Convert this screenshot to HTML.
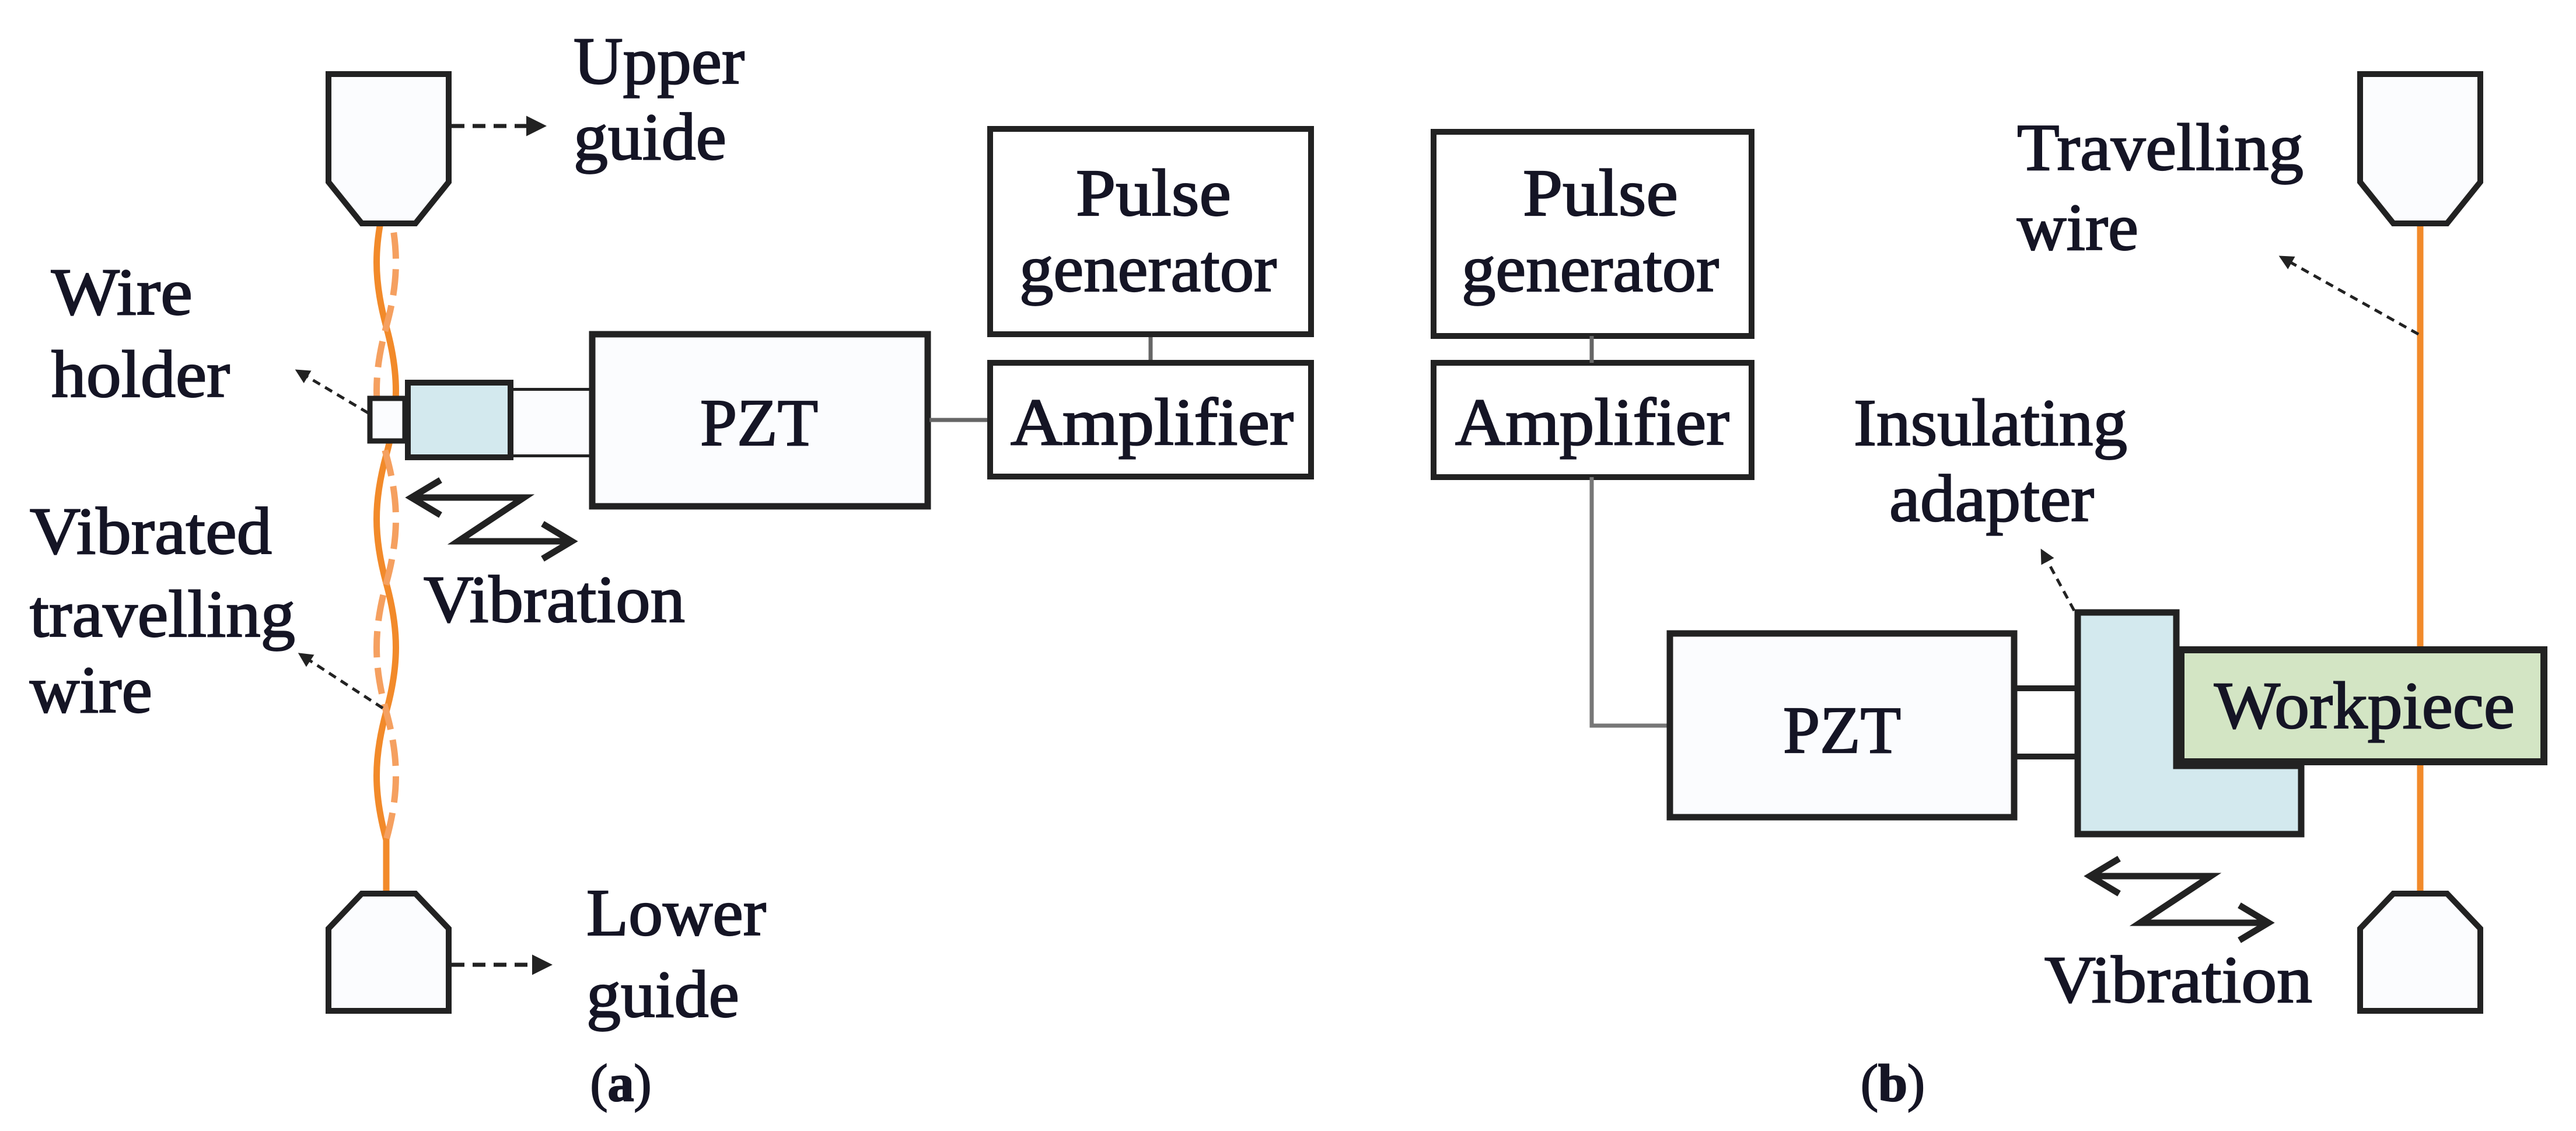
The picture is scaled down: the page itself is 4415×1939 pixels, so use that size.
<!DOCTYPE html>
<html><head><meta charset="utf-8"><style>
html,body{margin:0;padding:0;background:#fff;}
svg{display:block;}
text{font-family:"Liberation Serif",serif;fill:#151525;stroke:#151525;stroke-width:2.2px;}
</style></head><body>
<svg width="4415" height="1939" viewBox="0 0 4415 1939" xmlns="http://www.w3.org/2000/svg">
<defs>
<marker id="ah" viewBox="0 0 10 10" refX="8" refY="5" markerWidth="5" markerHeight="5" orient="auto"><path d="M0,0 L10,5 L0,10 z" fill="#222"/></marker>
</defs>
<g font-size="114">
<!-- ===== (a) ===== -->
<path d="M662,337 C640,420 640,480 662,560 S684,700 662,780 S640,920 662,1000 S684,1140 662,1220 S640,1360 662,1440 L662,1528" fill="none" stroke="#f28a2a" stroke-width="11"/>
<path d="M662,337 C684,420 684,480 662,560 S640,700 662,780 S684,920 662,1000 S640,1140 662,1220 S684,1360 662,1440" fill="none" stroke="#f5a060" stroke-width="11" stroke-dasharray="45,18"/>
<polygon points="563,127 769,127 769,312 712,383 620,383 563,312" fill="#fbfcfe" stroke="#222" stroke-width="10" stroke-linejoin="miter"/>
<line x1="774" y1="216" x2="930" y2="216" stroke="#222" stroke-width="7" stroke-dasharray="22,14" marker-end="url(#ah)"/>
<text x="983" y="143" textLength="293" lengthAdjust="spacingAndGlyphs">Upper</text>
<text x="983" y="273" textLength="262" lengthAdjust="spacingAndGlyphs">guide</text>
<polygon points="620,1532 712,1532 769,1592 769,1733 563,1733 563,1592" fill="#fbfcfe" stroke="#222" stroke-width="10"/>
<line x1="774" y1="1654" x2="940" y2="1654" stroke="#222" stroke-width="7" stroke-dasharray="22,14" marker-end="url(#ah)"/>
<text x="1005" y="1603" textLength="308" lengthAdjust="spacingAndGlyphs">Lower</text>
<text x="1005" y="1743" textLength="262" lengthAdjust="spacingAndGlyphs">guide</text>
<line x1="876" y1="670" x2="1012" y2="670" stroke="#222" stroke-width="10"/>
<line x1="876" y1="779" x2="1012" y2="779" stroke="#222" stroke-width="10"/>
<rect x="876" y="670" width="136" height="109" fill="#fbfcfe"/>
<rect x="634" y="683" width="60" height="73" fill="#fbfcfe" stroke="#222" stroke-width="9"/>
<rect x="699" y="656" width="176" height="128" fill="#d3e9ee" stroke="#222" stroke-width="10"/>
<rect x="1015" y="573" width="575" height="295" fill="#fbfcfe" stroke="#222" stroke-width="11"/>
<text x="1301" y="763" text-anchor="middle" textLength="202" lengthAdjust="spacingAndGlyphs">PZT</text>
<line x1="1593" y1="720" x2="1697" y2="720" stroke="#666" stroke-width="7"/>
<line x1="1972" y1="577" x2="1972" y2="618" stroke="#666" stroke-width="7"/>
<rect x="1697" y="221" width="550" height="352" fill="#fff" stroke="#222" stroke-width="10"/>
<rect x="1697" y="622" width="550" height="195" fill="#fff" stroke="#222" stroke-width="10"/>
<text x="1844" y="369" textLength="266" lengthAdjust="spacingAndGlyphs">Pulse</text>
<text x="1747" y="499" textLength="441" lengthAdjust="spacingAndGlyphs">generator</text>
<text x="1732" y="762" textLength="485" lengthAdjust="spacingAndGlyphs">Amplifier</text>
<line x1="631" y1="708" x2="510" y2="636" stroke="#222" stroke-width="5" stroke-dasharray="14,10" marker-end="url(#ah)"/>
<text x="88" y="539" textLength="242" lengthAdjust="spacingAndGlyphs">Wire</text>
<text x="88" y="680" textLength="306" lengthAdjust="spacingAndGlyphs">holder</text>
<path d="M705,853 L898,853 L785,928 L980,928" fill="none" stroke="#222" stroke-width="11"/>
<path d="M755,823 L705,853 L755,883" fill="none" stroke="#222" stroke-width="11"/>
<path d="M930,898 L980,928 L930,958" fill="none" stroke="#222" stroke-width="11"/>
<text x="726" y="1066" textLength="448" lengthAdjust="spacingAndGlyphs">Vibration</text>
<line x1="656" y1="1214" x2="515" y2="1122" stroke="#222" stroke-width="5" stroke-dasharray="14,10" marker-end="url(#ah)"/>
<text x="51" y="949" textLength="415" lengthAdjust="spacingAndGlyphs">Vibrated</text>
<text x="51" y="1091" textLength="455" lengthAdjust="spacingAndGlyphs">travelling</text>
<text x="51" y="1221" textLength="210" lengthAdjust="spacingAndGlyphs">wire</text>
<text x="1064" y="1887" font-size="90" text-anchor="middle">(<tspan font-weight="bold">a</tspan>)</text>

<!-- ===== (b) ===== -->
<line x1="4148" y1="323" x2="4148" y2="1532" stroke="#f28a2a" stroke-width="11"/>
<polygon points="4045,127 4251,127 4251,312 4194,383 4102,383 4045,312" fill="#fbfcfe" stroke="#222" stroke-width="10"/>
<polygon points="4102,1532 4194,1532 4251,1592 4251,1733 4045,1733 4045,1592" fill="#fbfcfe" stroke="#222" stroke-width="10"/>
<rect x="2457" y="226" width="545" height="350" fill="#fff" stroke="#222" stroke-width="10"/>
<rect x="2457" y="622" width="545" height="196" fill="#fff" stroke="#222" stroke-width="10"/>
<line x1="2728" y1="576" x2="2728" y2="622" stroke="#666" stroke-width="7"/>
<polyline points="2728,818 2728,1244 2862,1244" fill="none" stroke="#777" stroke-width="7"/>
<text x="2610" y="369" textLength="266" lengthAdjust="spacingAndGlyphs">Pulse</text>
<text x="2505" y="499" textLength="441" lengthAdjust="spacingAndGlyphs">generator</text>
<text x="2494" y="762" textLength="470" lengthAdjust="spacingAndGlyphs">Amplifier</text>
<line x1="3455" y1="1180" x2="3561" y2="1180" stroke="#222" stroke-width="10"/>
<line x1="3455" y1="1297" x2="3561" y2="1297" stroke="#222" stroke-width="10"/>
<rect x="2862" y="1086" width="590" height="315" fill="#fbfcfe" stroke="#222" stroke-width="11"/>
<text x="3157" y="1290" text-anchor="middle" textLength="202" lengthAdjust="spacingAndGlyphs">PZT</text>
<polygon points="3561,1050 3730,1050 3730,1313 3944,1313 3944,1430 3561,1430" fill="#d3e9ee" stroke="#222" stroke-width="11"/>
<rect x="3738" y="1114" width="622" height="192" fill="#d3e5c4" stroke="#222" stroke-width="12"/>
<text x="3795" y="1248" textLength="515" lengthAdjust="spacingAndGlyphs">Workpiece</text>
<line x1="4145" y1="573" x2="3910" y2="441" stroke="#222" stroke-width="5" stroke-dasharray="14,10" marker-end="url(#ah)"/>
<text x="3457" y="291" textLength="491" lengthAdjust="spacingAndGlyphs">Travelling</text>
<text x="3457" y="428" textLength="208" lengthAdjust="spacingAndGlyphs">wire</text>
<line x1="3555" y1="1047" x2="3500" y2="945" stroke="#222" stroke-width="5" stroke-dasharray="14,10" marker-end="url(#ah)"/>
<text x="3177" y="763" textLength="469" lengthAdjust="spacingAndGlyphs">Insulating</text>
<text x="3238" y="893" textLength="351" lengthAdjust="spacingAndGlyphs">adapter</text>
<path d="M3582,1502 L3789,1502 L3668,1582 L3888,1582" fill="none" stroke="#222" stroke-width="11"/>
<path d="M3632,1472 L3582,1502 L3632,1532" fill="none" stroke="#222" stroke-width="11"/>
<path d="M3838,1552 L3888,1582 L3838,1612" fill="none" stroke="#222" stroke-width="11"/>
<text x="3504" y="1718" textLength="459" lengthAdjust="spacingAndGlyphs">Vibration</text>
<text x="3244" y="1887" font-size="90" text-anchor="middle">(<tspan font-weight="bold">b</tspan>)</text>
</g>
</svg>
</body></html>
